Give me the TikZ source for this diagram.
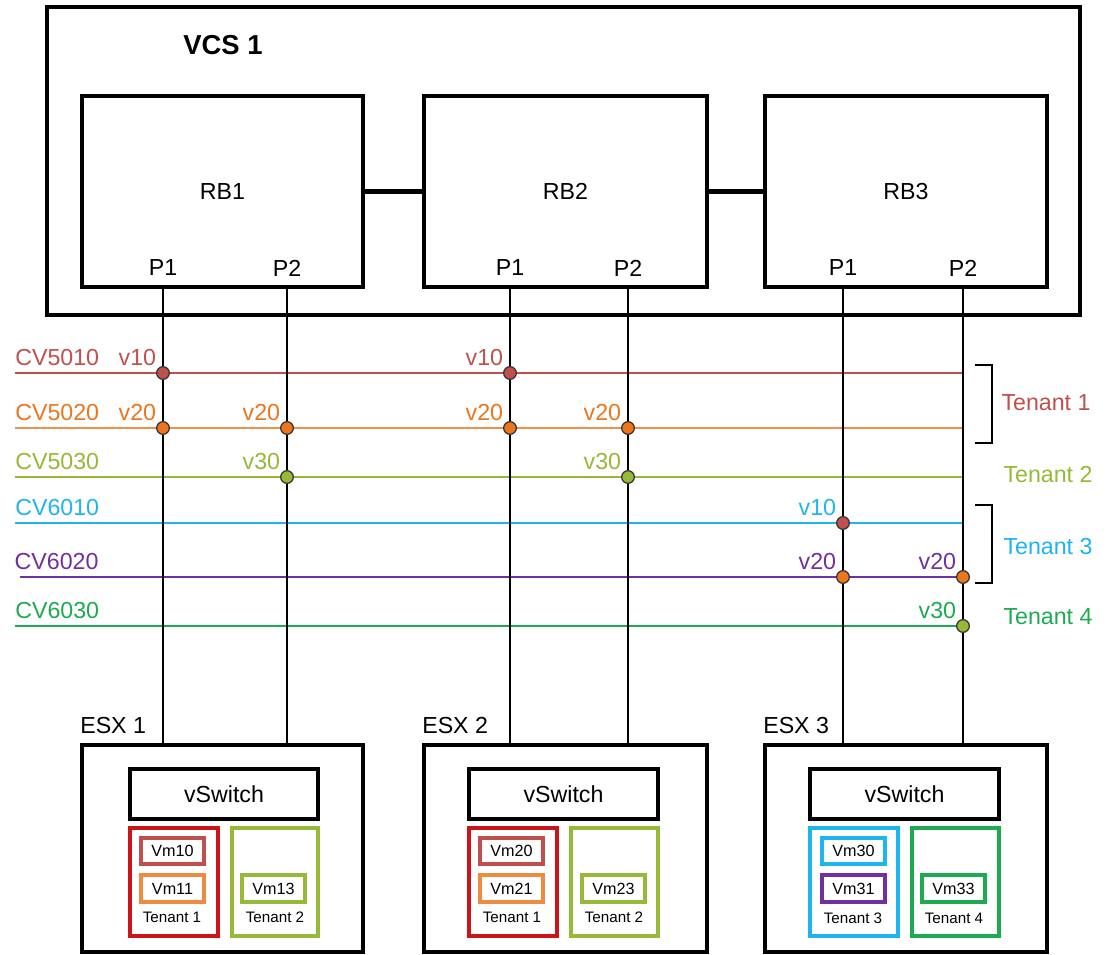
\documentclass[tikz,border=0pt]{standalone}
\usepackage{fontspec}
\setmainfont{Liberation Sans}
\usepackage{xcolor}
\definecolor{vlred}{RGB}{192,80,77}
\definecolor{vlorange}{RGB}{236,118,30}
\definecolor{vllime}{RGB}{150,185,55}
\definecolor{vlcyan}{RGB}{30,180,240}
\definecolor{vlpurple}{RGB}{112,48,160}
\definecolor{vlgreen}{RGB}{30,170,80}
\definecolor{tnred}{RGB}{205,20,25}
\usetikzlibrary{positioning, fit}
\tikzset{
    box/.style={draw=black, line width=2.6pt, inner sep=0pt},
    swbox/.style={box, line width=2.6pt},
    tenbox/.style={draw, line width=2.5pt, inner sep=0pt},
    vmbox/.style={draw, line width=2.2pt, inner sep=0pt},
    txt/.style={font=\fontsize{16.5}{19}\selectfont, inner sep=0pt},
    vmtxt/.style={font=\fontsize{11.5}{13}\selectfont, inner sep=0pt},
    small/.style={font=\fontsize{10.8}{12}\selectfont, inner sep=0pt},
    wire/.style={line width=2pt},
    link/.style={line width=3pt},
    vlan/.style={line width=1.8pt},
    dot/.style={circle, draw=black!80, line width=0.9pt, inner sep=0pt, minimum size=9pt},
    vlbl/.style={font=\fontsize{16.5}{19}\selectfont, inner sep=1.2pt},
    brace/.style={line width=1.8pt},
}

\begin{document}
\begin{tikzpicture}[x=0.025cm, y=-0.025cm]
\useasboundingbox (0,0) rectangle (1110,954);
% fabric and bridges
\node[box, fit={(47,7) (1080,315)}] (vcs) {};
\node[txt, anchor=west, font=\bfseries\fontsize{19.5}{22}\selectfont] (vcslbl) at (183,45) {VCS 1};
\node[box, fit={(82,96) (363,287)}, label={[txt]center:RB1}] (rb1) {};
\node[box, fit={(424,96) (707,287)}, label={[txt]center:RB2}] (rb2) {};
\node[box, fit={(765,96) (1047,287)}, label={[txt]center:RB3}] (rb3) {};
\draw[link] (rb1) -- (rb2);
\draw[link] (rb2) -- (rb3);
\node[txt] (p11) at (163,268) {P1};
\node[txt] (p12) at (287,268) {P2};
\node[txt] (p21) at (510,268) {P1};
\node[txt] (p22) at (628,268) {P2};
\node[txt] (p31) at (843,268) {P1};
\node[txt] (p32) at (963,268) {P2};

% vlans
\coordinate (w5010) at (15,373);  \coordinate (e5010) at (963,373);
\coordinate (w5020) at (15,428);  \coordinate (e5020) at (963,428);
\coordinate (w5030) at (15,477);  \coordinate (e5030) at (963,477);
\coordinate (w6010) at (15,523);  \coordinate (e6010) at (963,523);
\coordinate (w6020) at (20,577);  \coordinate (e6020) at (963,577);
\coordinate (w6030) at (15,626);  \coordinate (e6030) at (963,626);
\draw[vlan, vlred] (w5010) -- (e5010);
\draw[vlan, vlorange!80] (w5020) -- (e5020);
\draw[vlan, vllime] (w5030) -- (e5030);
\draw[vlan, vlcyan] (w6010) -- (e6010);
\draw[vlan, vlpurple] (w6020) -- (e6020);
\draw[vlan, vlgreen] (w6030) -- (e6030);
\node[txt, text=vlred, above right=5pt and 0pt of w5010] (cv5010) {CV5010};
\node[txt, text=vlorange, above right=5pt and 0pt of w5020] (cv5020) {CV5020};
\node[txt, text=vllime, above right=5pt and 0pt of w5030] (cv5030) {CV5030};
\node[txt, text=vlcyan, above right=5pt and 0pt of w6010] (cv6010) {CV6010};
\node[txt, text=vlpurple, above right=5pt and -4pt of w6020] (cv6020) {CV6020};
\node[txt, text=vlgreen, above right=5pt and 0pt of w6030] (cv6030) {CV6030};

% tenants
\draw[brace] (975,365) -- (992,365) -- (992,443) -- (975,443);
\draw[brace] (975,505) -- (992,505) -- (992,583) -- (975,583);
\node[txt, text=vlred] (ten1) at (1046,403) {Tenant 1};
\node[txt, text=vllime] (ten2) at (1048,475) {Tenant 2};
\node[txt, text=vlcyan] (ten3) at (1048,547) {Tenant 3};
\node[txt, text=vlgreen] (ten4) at (1048,617) {Tenant 4};

% ESX 1
\node[box, fit={(82,745) (363,952)}] (esx1) {};
\node[txt, anchor=base west] (esx1lbl) at (80,733) {ESX 1};
\node[swbox, fit={(130,769) (318,819)}, label={[txt]center:vSwitch}] (vsw1) {};
\node[tenbox, draw=tnred, fit={(130,828) (218,936)}] (t11) {};
\node[tenbox, draw=vllime, fit={(232,828) (318,936)}] (t12) {};
\node[vmbox, draw=vlred, fit={(141,838) (204,864)}, label={[vmtxt]center:Vm10}] (vm10) {};
\node[vmbox, draw=vlorange!85, fit={(141,875) (204,902)}, label={[vmtxt]center:Vm11}] (vm11) {};
\node[vmbox, draw=vllime, fit={(242,875) (305,902)}, label={[vmtxt]center:Vm13}] (vm13) {};
\node[small] (t11lbl) at (172,917) {Tenant 1};
\node[small] (t12lbl) at (275,917) {Tenant 2};

% ESX 2
\node[box, fit={(424,745) (707,952)}] (esx2) {};
\node[txt, anchor=base west] (esx2lbl) at (422,733) {ESX 2};
\node[swbox, fit={(469,769) (658,819)}, label={[txt]center:vSwitch}] (vsw2) {};
\node[tenbox, draw=tnred, fit={(469,828) (557,936)}] (t21) {};
\node[tenbox, draw=vllime, fit={(571,828) (658,936)}] (t22) {};
\node[vmbox, draw=vlred, fit={(480,838) (543,864)}, label={[vmtxt]center:Vm20}] (vm20) {};
\node[vmbox, draw=vlorange!85, fit={(480,875) (543,902)}, label={[vmtxt]center:Vm21}] (vm21) {};
\node[vmbox, draw=vllime, fit={(582,875) (645,902)}, label={[vmtxt]center:Vm23}] (vm23) {};
\node[small] (t21lbl) at (512,917) {Tenant 1};
\node[small] (t22lbl) at (614,917) {Tenant 2};

% ESX 3
\node[box, fit={(765,745) (1047,952)}] (esx3) {};
\node[txt, anchor=base west] (esx3lbl) at (763,733) {ESX 3};
\node[swbox, fit={(810,769) (999,819)}, label={[txt]center:vSwitch}] (vsw3) {};
\node[tenbox, draw=vlcyan, fit={(810,828) (898,936)}] (t33) {};
\node[tenbox, draw=vlgreen, fit={(912,828) (999,936)}] (t34) {};
\node[vmbox, draw=vlcyan, fit={(822,838) (885,864)}, label={[vmtxt]center:Vm30}] (vm30) {};
\node[vmbox, draw=vlpurple, fit={(822,875) (885,902)}, label={[vmtxt]center:Vm31}] (vm31) {};
\node[vmbox, draw=vlgreen, fit={(922,875) (985,902)}, label={[vmtxt]center:Vm33}] (vm33) {};
\node[small] (t33lbl) at (853,918) {Tenant 3};
\node[small] (t34lbl) at (954,918) {Tenant 4};

% uplinks
\draw[wire] (p11 |- rb1.south) -- (p11 |- esx1.north);
\draw[wire] (p12 |- rb1.south) -- (p12 |- esx1.north);
\draw[wire] (p21 |- rb2.south) -- (p21 |- esx2.north);
\draw[wire] (p22 |- rb2.south) -- (p22 |- esx2.north);
\draw[wire] (p31 |- rb3.south) -- (p31 |- esx3.north);
\draw[wire] (p32 |- rb3.south) -- (p32 |- esx3.north);

% vlan members
\node[dot, fill=vlred, label={[vlbl, text=vlred]135:v10}] (d11a) at (p11 |- w5010) {};
\node[dot, fill=vlred, label={[vlbl, text=vlred]135:v10}] (d21a) at (p21 |- w5010) {};
\node[dot, fill=vlorange, label={[vlbl, text=vlorange]135:v20}] (d11b) at (p11 |- w5020) {};
\node[dot, fill=vlorange, label={[vlbl, text=vlorange]135:v20}] (d12b) at (p12 |- w5020) {};
\node[dot, fill=vlorange, label={[vlbl, text=vlorange]135:v20}] (d21b) at (p21 |- w5020) {};
\node[dot, fill=vlorange, label={[vlbl, text=vlorange]135:v20}] (d22b) at (p22 |- w5020) {};
\node[dot, fill=vllime, label={[vlbl, text=vllime]135:v30}] (d12c) at (p12 |- w5030) {};
\node[dot, fill=vllime, label={[vlbl, text=vllime]135:v30}] (d22c) at (p22 |- w5030) {};
\node[dot, fill=vlred, label={[vlbl, text=vlcyan]135:v10}] (d31d) at (p31 |- w6010) {};
\node[dot, fill=vlorange, label={[vlbl, text=vlpurple]135:v20}] (d31e) at (p31 |- w6020) {};
\node[dot, fill=vlorange, label={[vlbl, text=vlpurple]135:v20}] (d32e) at (p32 |- w6020) {};
\node[dot, fill=vllime, label={[vlbl, text=vlgreen]135:v30}] (d32f) at (p32 |- w6030) {};
\end{tikzpicture}
\end{document}
